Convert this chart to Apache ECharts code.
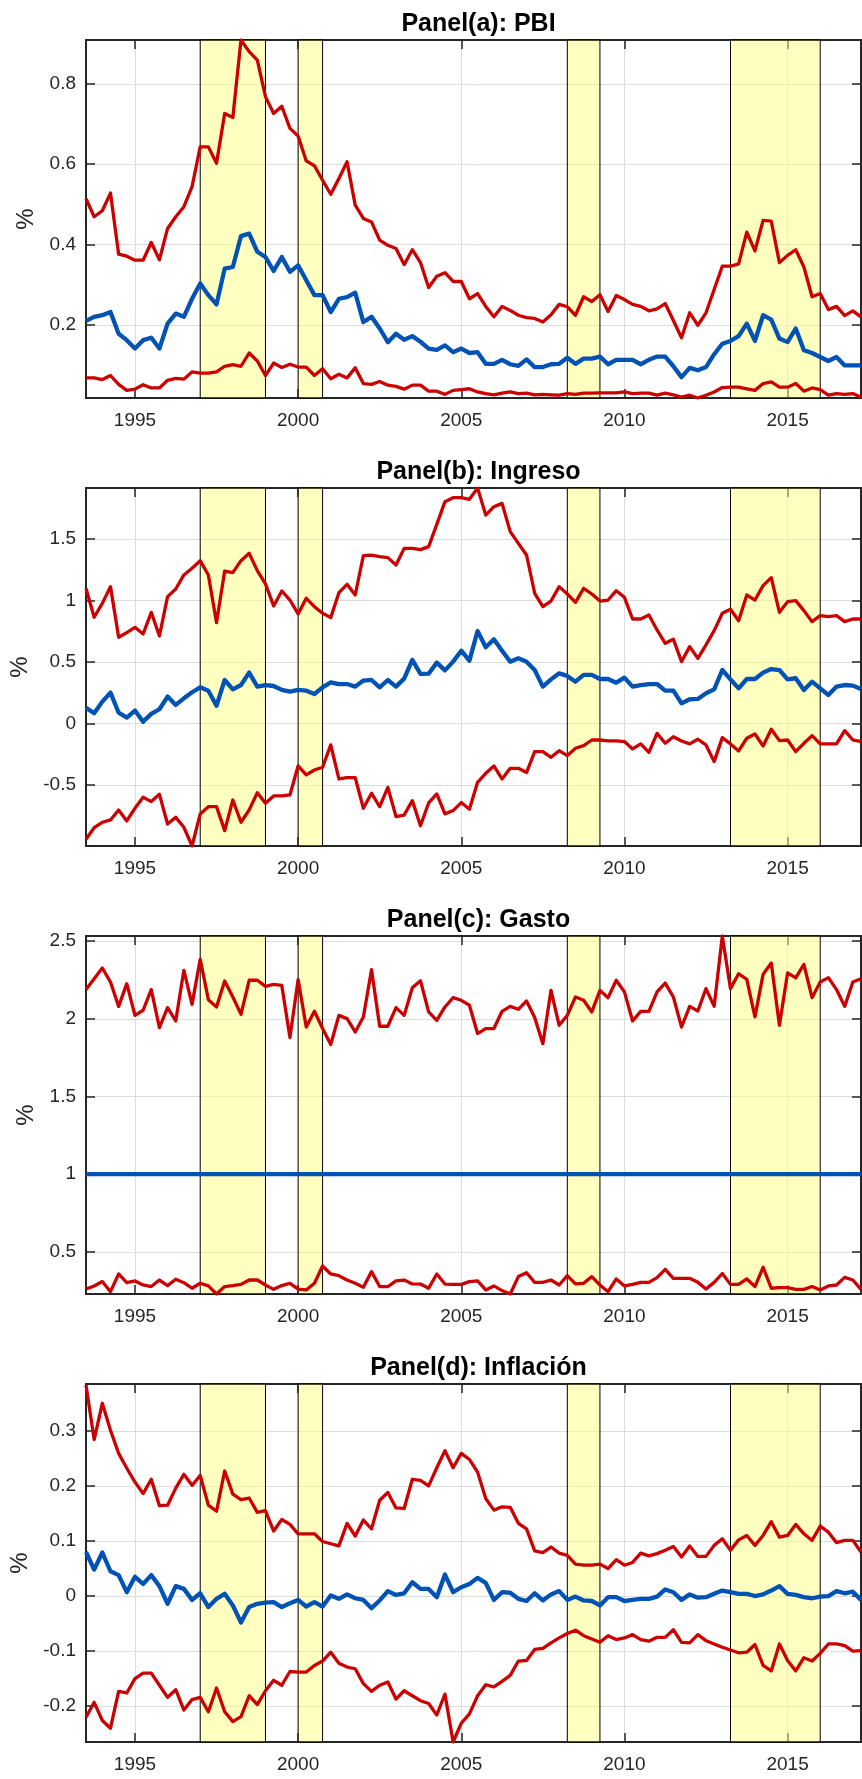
<!DOCTYPE html>
<html><head><meta charset="utf-8">
<script src="https://cdn.jsdelivr.net/npm/echarts@6/dist/echarts.min.js"></script>
<style>html,body{margin:0;padding:0;background:#fff}#c{width:862px;height:1779px}</style>
</head><body><div id="c"></div>
<script>
// quarterly dates, 1993Q3 .. 2017Q2 (96 points)
const START_YEAR = 1993.5;
const N_POINTS = 96;
const quarters = [];
for (let i = 0; i < N_POINTS; i++) quarters.push(START_YEAR + i * 0.25);

const xTicks = [1995, 2000, 2005, 2010, 2015];
const shadedPeriods = [[1997, 1999], [2000, 2000.75], [2008.25, 2009.25], [2013.25, 2016]];
const panelTitles = ['Panel(a): PBI', 'Panel(b): Ingreso', 'Panel(c): Gasto', 'Panel(d): Inflación'];
const yMins = [0.018, -0.995, 0.228, -0.265];
const yMaxs = [0.909, 1.916, 2.533, 0.385];
const yTicks = [[0.2, 0.4, 0.6, 0.8], [-0.5, 0, 0.5, 1, 1.5], [0.5, 1, 1.5, 2, 2.5], [-0.2, -0.1, 0, 0.1, 0.2, 0.3]];

// Panel (a) PBI
const pbiUpper = [0.514,0.469,0.484,0.528,0.376,0.371,0.361,0.361,0.405,0.362,
0.44,0.469,0.494,0.544,0.643,0.643,0.602,0.726,0.716,0.909,
0.88,0.859,0.768,0.726,0.744,0.689,0.67,0.608,0.596,0.56,
0.525,0.564,0.606,0.498,0.465,0.456,0.411,0.398,0.39,0.35,
0.387,0.355,0.293,0.321,0.33,0.308,0.308,0.265,0.278,0.246,
0.22,0.246,0.236,0.224,0.218,0.216,0.207,0.225,0.251,0.245,
0.224,0.27,0.258,0.275,0.233,0.273,0.263,0.251,0.246,0.235,
0.24,0.253,0.211,0.168,0.23,0.199,0.23,0.288,0.346,0.346,
0.352,0.431,0.384,0.46,0.458,0.355,0.373,0.387,0.344,0.27,
0.278,0.238,0.246,0.223,0.235,0.22];
const pbiMedian = [0.21,0.22,0.224,0.232,0.178,0.162,0.141,0.162,0.168,0.141,
0.203,0.228,0.22,0.265,0.303,0.274,0.251,0.34,0.344,0.421,
0.427,0.382,0.369,0.334,0.369,0.332,0.348,0.311,0.274,0.274,
0.232,0.265,0.269,0.28,0.207,0.22,0.191,0.157,0.178,0.163,
0.172,0.158,0.141,0.138,0.149,0.132,0.141,0.13,0.132,0.103,
0.103,0.113,0.102,0.098,0.114,0.095,0.095,0.102,0.103,0.118,
0.103,0.116,0.116,0.121,0.102,0.113,0.113,0.113,0.102,0.113,
0.121,0.121,0.097,0.07,0.093,0.087,0.095,0.127,0.153,0.16,
0.172,0.203,0.16,0.224,0.213,0.166,0.157,0.191,0.137,0.13,
0.12,0.11,0.12,0.099,0.099,0.099];
const pbiLower = [0.068,0.068,0.064,0.074,0.052,0.037,0.04,0.051,0.043,0.043,
0.062,0.067,0.065,0.083,0.08,0.08,0.083,0.097,0.101,0.097,
0.13,0.11,0.074,0.105,0.094,0.102,0.095,0.095,0.074,0.091,
0.066,0.077,0.068,0.093,0.054,0.052,0.059,0.05,0.047,0.04,
0.05,0.05,0.035,0.035,0.027,0.037,0.039,0.041,0.033,0.029,
0.026,0.03,0.033,0.029,0.03,0.026,0.027,0.026,0.025,0.029,
0.027,0.03,0.03,0.031,0.031,0.031,0.033,0.029,0.03,0.03,
0.025,0.03,0.026,0.02,0.025,0.018,0.025,0.033,0.044,0.045,
0.045,0.041,0.037,0.054,0.058,0.045,0.045,0.054,0.035,0.043,
0.039,0.025,0.029,0.027,0.029,0.02];

// Panel (b) Ingreso
const ingUpper = [1.10,0.865,0.978,1.114,0.702,0.74,0.783,0.729,0.905,0.713,
1.033,1.095,1.209,1.263,1.325,1.209,0.821,1.241,1.228,1.325,
1.385,1.244,1.136,0.957,1.079,1.005,0.892,1.019,0.951,0.897,
0.862,1.065,1.133,1.046,1.366,1.371,1.358,1.35,1.29,1.425,
1.425,1.415,1.439,1.62,1.805,1.837,1.837,1.824,1.915,1.696,
1.764,1.791,1.561,1.466,1.371,1.06,0.951,0.997,1.114,1.054,
0.986,1.10,1.054,0.997,1.005,1.081,1.027,0.851,0.851,0.883,
0.762,0.653,0.686,0.504,0.626,0.531,0.64,0.756,0.897,0.93,
0.837,1.046,1.005,1.122,1.187,0.905,0.992,1.0,0.919,0.829,
0.878,0.87,0.878,0.829,0.851,0.851];
const ingMedian = [0.13,0.084,0.179,0.252,0.089,0.049,0.106,0.016,0.079,0.117,
0.22,0.152,0.206,0.255,0.295,0.268,0.146,0.355,0.279,0.314,
0.415,0.301,0.314,0.306,0.274,0.26,0.274,0.268,0.241,0.295,
0.336,0.322,0.322,0.301,0.35,0.355,0.295,0.355,0.301,0.366,
0.518,0.405,0.406,0.496,0.433,0.504,0.593,0.512,0.753,0.621,
0.686,0.593,0.504,0.531,0.504,0.436,0.301,0.36,0.409,0.388,
0.341,0.396,0.396,0.363,0.363,0.333,0.374,0.301,0.314,0.322,
0.322,0.268,0.268,0.165,0.198,0.201,0.247,0.279,0.436,0.36,
0.287,0.363,0.363,0.415,0.444,0.436,0.36,0.369,0.274,0.341,
0.287,0.233,0.301,0.314,0.309,0.282];
const ingLower = [-0.94,-0.846,-0.802,-0.783,-0.702,-0.791,-0.688,-0.599,-0.634,-0.575,
-0.816,-0.762,-0.843,-0.995,-0.734,-0.675,-0.675,-0.87,-0.621,-0.802,
-0.702,-0.561,-0.648,-0.588,-0.588,-0.58,-0.344,-0.417,-0.377,-0.355,
-0.173,-0.45,-0.439,-0.439,-0.688,-0.566,-0.675,-0.518,-0.756,-0.743,
-0.626,-0.83,-0.645,-0.572,-0.734,-0.707,-0.642,-0.696,-0.477,-0.404,
-0.344,-0.45,-0.363,-0.363,-0.398,-0.228,-0.228,-0.274,-0.22,-0.26,
-0.2,-0.179,-0.133,-0.133,-0.141,-0.141,-0.146,-0.206,-0.165,-0.233,
-0.079,-0.16,-0.106,-0.141,-0.165,-0.127,-0.173,-0.309,-0.114,-0.165,
-0.222,-0.119,-0.084,-0.182,-0.046,-0.138,-0.133,-0.228,-0.16,-0.098,
-0.165,-0.165,-0.165,-0.057,-0.133,-0.146];

// Panel (c) Gasto
const gasUpper = [2.188,2.258,2.327,2.237,2.08,2.226,2.022,2.055,2.188,1.943,
2.072,1.986,2.312,2.093,2.383,2.123,2.076,2.243,2.14,2.029,
2.248,2.248,2.209,2.222,2.215,1.879,2.252,1.947,2.048,1.937,
1.834,2.022,2.001,1.915,2.012,2.316,1.952,1.952,2.072,2.022,
2.2,2.245,2.044,1.99,2.076,2.136,2.119,2.087,1.905,1.937,
1.937,2.048,2.08,2.061,2.115,2.008,1.84,2.183,1.958,2.022,
2.14,2.119,2.044,2.183,2.136,2.248,2.173,1.986,2.048,2.048,
2.173,2.23,2.14,1.947,2.08,2.05,2.194,2.08,2.533,2.194,
2.29,2.254,2.012,2.286,2.359,1.958,2.295,2.263,2.35,2.136,
2.237,2.265,2.188,2.08,2.237,2.258];
const gasMedian = [1,1,1,1,1,1,1,1,1,1,
1,1,1,1,1,1,1,1,1,1,
1,1,1,1,1,1,1,1,1,1,
1,1,1,1,1,1,1,1,1,1,
1,1,1,1,1,1,1,1,1,1,
1,1,1,1,1,1,1,1,1,1,
1,1,1,1,1,1,1,1,1,1,
1,1,1,1,1,1,1,1,1,1,
1,1,1,1,1,1,1,1,1,1,
1,1,1,1,1,1];
const gasLower = [0.26,0.28,0.308,0.243,0.357,0.301,0.312,0.286,0.276,0.318,
0.282,0.323,0.301,0.265,0.297,0.28,0.228,0.276,0.282,0.29,
0.318,0.318,0.286,0.258,0.282,0.297,0.26,0.254,0.297,0.408,
0.357,0.346,0.318,0.297,0.271,0.372,0.276,0.276,0.312,0.318,
0.293,0.292,0.265,0.357,0.292,0.29,0.29,0.308,0.312,0.254,
0.28,0.25,0.228,0.34,0.365,0.303,0.303,0.318,0.286,0.346,
0.293,0.297,0.34,0.286,0.243,0.325,0.28,0.29,0.303,0.303,
0.333,0.387,0.329,0.329,0.329,0.303,0.26,0.303,0.36,0.29,
0.29,0.325,0.276,0.4,0.265,0.269,0.269,0.258,0.258,0.276,
0.254,0.28,0.286,0.335,0.318,0.258];

// Panel (d) Inflación
const infUpper = [0.383,0.284,0.35,0.301,0.259,0.232,0.207,0.186,0.212,0.164,
0.165,0.196,0.221,0.201,0.219,0.165,0.154,0.227,0.185,0.175,
0.178,0.152,0.155,0.118,0.139,0.13,0.113,0.113,0.113,0.099,
0.095,0.091,0.132,0.109,0.138,0.122,0.174,0.188,0.16,0.159,
0.212,0.21,0.2,0.233,0.264,0.233,0.259,0.248,0.225,0.177,
0.156,0.162,0.161,0.132,0.122,0.082,0.079,0.089,0.078,0.074,
0.058,0.056,0.056,0.058,0.05,0.066,0.056,0.061,0.078,0.073,
0.077,0.083,0.09,0.071,0.091,0.072,0.072,0.092,0.104,0.083,
0.102,0.11,0.092,0.11,0.135,0.107,0.11,0.13,0.113,0.101,
0.127,0.116,0.097,0.101,0.101,0.08];
const infMedian = [0.08,0.048,0.079,0.045,0.038,0.007,0.035,0.022,0.038,0.018,
-0.014,0.018,0.013,-0.007,0.005,-0.02,-0.005,0.004,-0.017,-0.048,
-0.02,-0.014,-0.012,-0.011,-0.02,-0.013,-0.007,-0.019,-0.011,-0.019,
0.001,-0.005,0.003,-0.004,-0.007,-0.022,-0.008,0.009,0.002,0.005,
0.025,0.013,0.013,-0.002,0.039,0.007,0.016,0.022,0.033,0.024,
-0.007,0.007,0.006,-0.005,-0.009,0.005,-0.008,0.003,0.009,-0.007,
-0.001,-0.008,-0.009,-0.017,-0.002,-0.002,-0.009,-0.007,-0.005,-0.005,
-0.001,0.012,0.007,-0.007,0.003,-0.003,-0.002,0.004,0.01,0.007,
0.004,0.004,0,0.003,0.01,0.018,0.004,0.002,-0.002,-0.004,
-0.001,0,0.009,0.005,0.008,-0.007];
const infLower = [-0.22,-0.193,-0.226,-0.24,-0.173,-0.176,-0.15,-0.14,-0.14,-0.162,
-0.184,-0.17,-0.207,-0.188,-0.184,-0.21,-0.167,-0.21,-0.228,-0.219,
-0.181,-0.197,-0.172,-0.153,-0.162,-0.137,-0.138,-0.138,-0.126,-0.118,
-0.102,-0.122,-0.129,-0.132,-0.159,-0.173,-0.162,-0.156,-0.187,-0.172,
-0.181,-0.19,-0.195,-0.216,-0.178,-0.265,-0.231,-0.214,-0.181,-0.161,
-0.165,-0.155,-0.144,-0.118,-0.117,-0.097,-0.095,-0.085,-0.076,-0.068,
-0.062,-0.072,-0.078,-0.084,-0.072,-0.079,-0.076,-0.07,-0.079,-0.082,
-0.075,-0.075,-0.061,-0.084,-0.085,-0.07,-0.081,-0.087,-0.093,-0.098,
-0.103,-0.102,-0.088,-0.126,-0.136,-0.087,-0.117,-0.136,-0.112,-0.118,
-0.104,-0.087,-0.087,-0.09,-0.1,-0.099];

const panels = [
  [pbiLower, pbiMedian, pbiUpper],
  [ingLower, ingMedian, ingUpper],
  [gasLower, gasMedian, gasUpper],
  [infLower, infMedian, infUpper]
];

const RED = '#cc0000', BLUE = '#0052b4', AXIS = '#262626', GRIDC = '#dcdcdc';
const FONT = 'Liberation Sans, Arial, Helvetica, sans-serif';
const gridTops = [40, 488, 936, 1384];
const GRID_LEFT = 86, GRID_W = 775, GRID_H = 358;

const toXY = arr => arr.map((v, i) => [quarters[i], v]);

const option = { animation: false, backgroundColor: '#fff', title: [], grid: [], xAxis: [], yAxis: [], series: [] };

panels.forEach((p, k) => {
  option.title.push({
    text: panelTitles[k], left: GRID_LEFT + GRID_W / 2, top: gridTops[k] - 33, textAlign: 'center',
    textStyle: { fontSize: 25, fontWeight: 'bold', color: '#000', fontFamily: FONT }
  });
  option.grid.push({ left: GRID_LEFT, top: gridTops[k], width: GRID_W, height: GRID_H });
  const axLine = { show: true, onZero: false, lineStyle: { color: AXIS, width: 2 } };
  const tick = (vals) => ({ show: true, inside: true, length: 9, customValues: vals, lineStyle: { color: AXIS, width: 1.5 } });
  option.xAxis.push({
    type: 'value', gridIndex: k, min: quarters[0], max: quarters[N_POINTS - 1], position: 'bottom',
    axisLine: axLine, axisTick: tick(xTicks),
    axisLabel: { customValues: xTicks, color: AXIS, fontSize: 19, margin: 13, fontFamily: FONT, formatter: v => String(v) },
    splitLine: { show: true, lineStyle: { color: GRIDC, width: 1 } }
  });
  option.xAxis.push({
    type: 'value', gridIndex: k, min: quarters[0], max: quarters[N_POINTS - 1], position: 'top',
    axisLine: axLine, axisTick: tick(xTicks), axisLabel: { show: false }, splitLine: { show: false }
  });
  option.yAxis.push({
    type: 'value', gridIndex: k, min: yMins[k], max: yMaxs[k], position: 'left',
    name: '%', nameLocation: 'middle', nameGap: 47, nameRotate: 90,
    nameTextStyle: { fontSize: 24, color: AXIS, fontFamily: FONT },
    axisLine: axLine, axisTick: tick(yTicks[k]),
    axisLabel: { customValues: yTicks[k], color: AXIS, fontSize: 19, margin: 10, fontFamily: FONT, formatter: v => String(v) },
    splitLine: { show: true, lineStyle: { color: GRIDC, width: 1 } }
  });
  option.yAxis.push({
    type: 'value', gridIndex: k, min: yMins[k], max: yMaxs[k], position: 'right',
    axisLine: axLine, axisTick: tick(yTicks[k]), axisLabel: { show: false }, splitLine: { show: false }
  });
  const xi = 2 * k, yi = 2 * k;
  const colors = [RED, BLUE, RED];
  const widths = [3.3, 4.3, 3.3];
  p.forEach((arr, j) => {
    const s = {
      type: 'line', xAxisIndex: xi, yAxisIndex: yi, data: toXY(arr), showSymbol: false, symbol: 'none',
      lineStyle: { color: colors[j], width: widths[j], join: 'round' }, itemStyle: { color: colors[j] }, z: 3, silent: true
    };
    if (j === 0) {
      s.markArea = {
        silent: true, z: 1,
        itemStyle: { color: 'rgba(255,255,127,0.5)', borderColor: '#000', borderWidth: 1 },
        data: shadedPeriods.map(sp => [{ xAxis: sp[0] }, { xAxis: sp[1] }])
      };
    }
    option.series.push(s);
  });
});

const chart = echarts.init(document.getElementById('c'), null, { renderer: 'canvas' });
chart.setOption(option);
</script></body></html>
